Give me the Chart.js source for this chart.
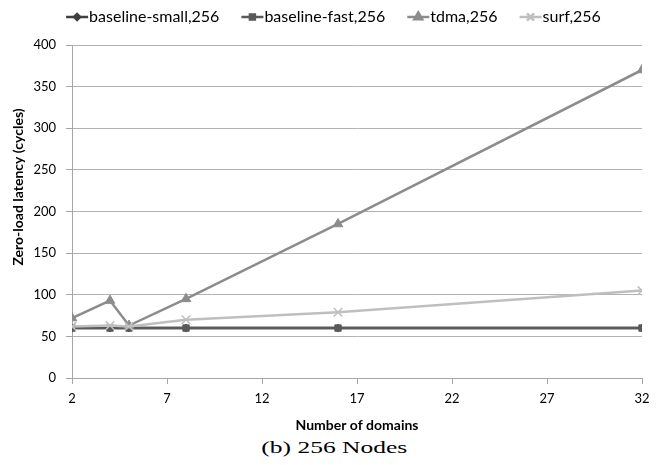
<!DOCTYPE html>
<html>
<head>
<meta charset="utf-8">
<script src="https://cdn.jsdelivr.net/npm/chart.js@4.4.1/dist/chart.umd.min.js"></script>
<style>
  body { margin: 0; background: #fff; }
  #wrap { position: relative; width: 667px; height: 465px; }
  #box { position: absolute; left: 0; top: 0; width: 667px; height: 437px; }
  #caption {
    position: absolute; left: 0; top: 438px; width: 667px; text-align: center;
    font-family: "Liberation Serif", serif; font-size: 17px; color: #000;
    transform: scaleX(1.5); transform-origin: 332px 0;
  }
</style>
</head>
<body>
<div id="wrap">
  <div id="box"><canvas id="chart"></canvas></div>
  <div id="caption">(b) 256 Nodes</div>
</div>
<script>
// Dados
const domains = [2, 4, 5, 8, 16, 32];
const baselineSmall = [60, 60, 60, 60, 60, 60];
const baselineFast = [60, 60, 60, 60, 60, 60];
const tdma = [72, 93, 63, 95, 185, 370];
const surf = [62, 63, 62, 70, 79, 105];
const xTicks = [2, 7, 12, 17, 22, 27, 32];
const seriesNames = ['baseline-small,256', 'baseline-fast,256', 'tdma,256', 'surf,256'];
const yTitle = 'Zero-load latency (cycles)';

const FONT = 'Lato, "Liberation Sans", sans-serif';

const toPoints = (ys) => domains.map((x, i) => ({ x: x, y: ys[i] }));

function makeSeries(label, values, color, style, radius, order) {
  return {
    label: label,
    data: toPoints(values),
    borderColor: color,
    backgroundColor: color,
    borderWidth: 2.5,
    pointStyle: style,
    pointRadius: radius,
    pointBorderWidth: style === 'crossRot' ? 1.5 : 1,
    pointBorderColor: color,
    pointBackgroundColor: color,
    tension: 0,
    order: order
  };
}

// Legenda desenhada à mão: linha + marcador + texto
const lineLegend = {
  id: 'lineLegend',
  afterDraw(chart) {
    const ctx = chart.ctx;
    const y = 17;
    const iconW = 22;
    const gap = 22;
    ctx.save();
    ctx.font = '16px ' + FONT;
    const widths = chart.data.datasets.map(ds => iconW + 1 + ctx.measureText(ds.label).width);
    const total = widths.reduce((a, b) => a + b, 0) + gap * (widths.length - 1);
    let x = (chart.width - total) / 2;
    chart.data.datasets.forEach((ds, i) => {
      ctx.strokeStyle = ds.borderColor;
      ctx.lineWidth = 2.5;
      ctx.beginPath();
      ctx.moveTo(x, y);
      ctx.lineTo(x + iconW, y);
      ctx.stroke();
      ctx.fillStyle = ds.borderColor;
      Chart.helpers.drawPoint(ctx, {
        pointStyle: ds.pointStyle,
        radius: ds.pointRadius - 1,
        rotation: 0,
        borderWidth: ds.pointBorderWidth
      }, x + iconW / 2, y);
      ctx.fillStyle = '#000';
      ctx.textBaseline = 'middle';
      ctx.textAlign = 'left';
      ctx.fillText(ds.label, x + iconW + 1, y);
      x += widths[i] + gap;
    });
    ctx.restore();
  }
};

// Título do eixo Y (fica um pouco acima do centro, como no original)
const yTitlePlugin = {
  id: 'yTitle',
  afterDraw(chart) {
    const ctx = chart.ctx;
    ctx.save();
    ctx.translate(18, 187);
    ctx.rotate(-Math.PI / 2);
    ctx.font = 'bold 14px ' + FONT;
    ctx.fillStyle = '#000';
    ctx.textAlign = 'center';
    ctx.textBaseline = 'middle';
    ctx.fillText(yTitle, 0, 0);
    ctx.restore();
  }
};

const ctx = document.getElementById('chart');
new Chart(ctx, {
  type: 'line',
  data: {
    datasets: [
      makeSeries(seriesNames[0], baselineSmall, '#3f3f3f', 'rectRot', 4, 3),
      makeSeries(seriesNames[1], baselineFast, '#595959', 'rect', 4.5, 2),
      makeSeries(seriesNames[2], tdma, '#8c8c8c', 'triangle', 5.5, 1),
      makeSeries(seriesNames[3], surf, '#bfbfbf', 'crossRot', 6, 0)
    ]
  },
  options: {
    responsive: true,
    maintainAspectRatio: false,
    animation: false,
    layout: { padding: { top: 45, right: 25, left: 0, bottom: 0 } },
    plugins: {
      legend: { display: false },
      tooltip: { enabled: false }
    },
    scales: {
      x: {
        type: 'linear',
        min: 2,
        max: 32,
        afterBuildTicks: (scale) => { scale.ticks = xTicks.map(v => ({ value: v })); },
        afterFit: (scale) => { scale.height = 59; },
        grid: { drawOnChartArea: false, drawTicks: true, tickLength: 6, color: '#a6a6a6' },
        border: { color: '#a6a6a6', width: 1 },
        ticks: { color: '#000', font: { family: FONT, size: 13 }, padding: 7, maxRotation: 0 },
        title: {
          display: true,
          text: 'Number of domains',
          color: '#000',
          font: { family: FONT, size: 14, weight: 'bold' },
          padding: { top: 2, bottom: 3 }
        }
      },
      y: {
        min: 0,
        max: 400,
        afterFit: (scale) => { scale.width = 72; },
        grid: { color: '#b3b3b3', lineWidth: 1, tickLength: 6, tickColor: '#a6a6a6' },
        border: { color: '#a6a6a6', width: 1 },
        ticks: { stepSize: 50, color: '#000', font: { family: FONT, size: 13 }, padding: 10 }
      }
    }
  },
  plugins: [lineLegend, yTitlePlugin]
});
</script>
</body>
</html>
